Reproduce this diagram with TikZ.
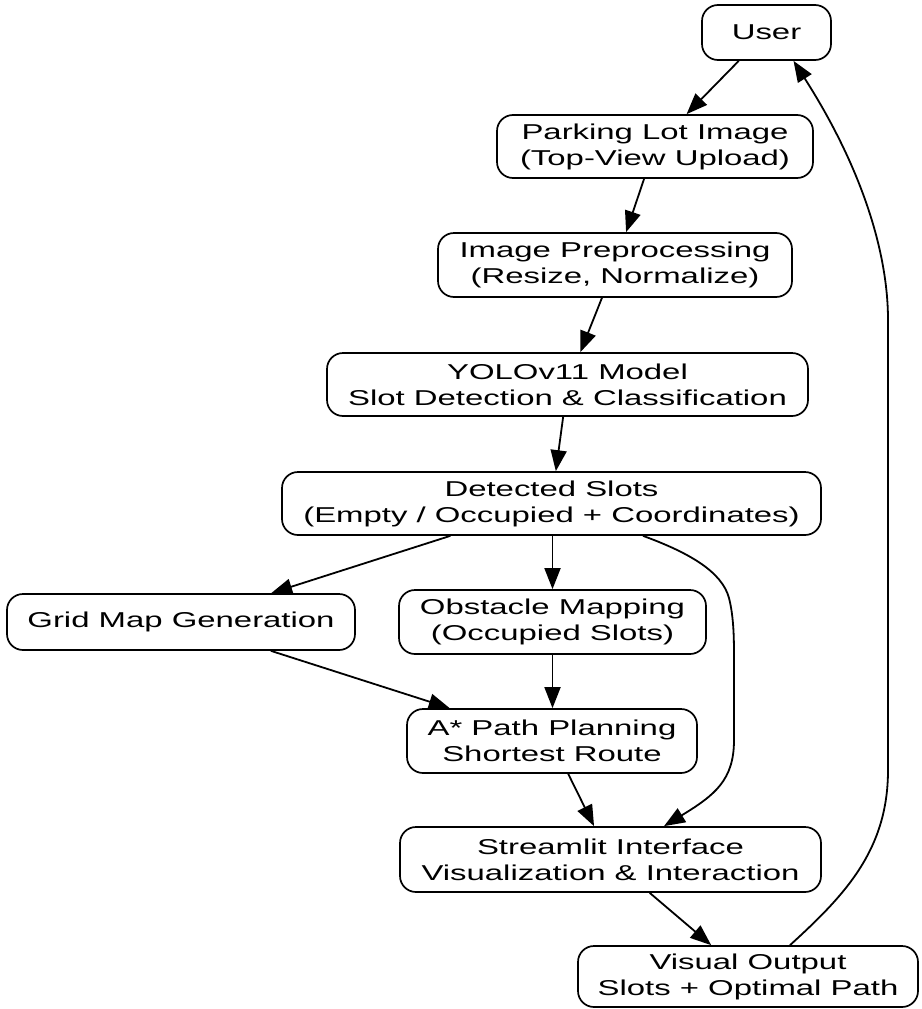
\documentclass[tikz,border=0pt]{standalone}
\usepackage{fontspec}
\setmainfont{Liberation Sans}[FakeStretch=1.53]
\usetikzlibrary{arrows.meta}
\begin{document}
\begin{tikzpicture}[x=1pt,y=-1pt,
  box/.style={draw, line width=1.7pt, rounded corners=16pt, inner sep=0pt, align=center,
    font=\fontsize{21.5}{26}\selectfont},
  edge/.style={line width=1.8pt, -{Triangle[length=21pt,width=16pt]}}]
\fill[white] (0,0) rectangle (921,1009);
\useasboundingbox (0,0) rectangle (921,1009);
\node[box, minimum width=129pt, minimum height=55pt] (user) at (766.5,32.5) {User};
\node[box, minimum width=316pt, minimum height=63pt] (park) at (655,146.5) {Parking Lot Image\\(Top-View Upload)};
\node[box, minimum width=354pt, minimum height=64pt] (pre) at (615,265) {Image Preprocessing\\(Resize, Normalize)};
\node[box, minimum width=481pt, minimum height=63pt] (yolo) at (567.5,384.5) {YOLOv11 Model\\Slot Detection \& Classification};
\node[box, minimum width=539pt, minimum height=63pt] (det) at (551.5,503.5) {Detected Slots\\(Empty / Occupied + Coordinates)};
\node[box, minimum width=348pt, minimum height=56pt] (grid) at (181,622) {Grid Map Generation};
\node[box, minimum width=307pt, minimum height=64pt] (obs) at (552.5,622) {Obstacle Mapping\\(Occupied Slots)};
\node[box, minimum width=290pt, minimum height=64pt] (astar) at (552,741) {A* Path Planning\\Shortest Route};
\node[box, minimum width=421pt, minimum height=65pt] (stream) at (610.5,859.5) {Streamlit Interface\\Visualization \& Interaction};
\node[box, minimum width=340pt, minimum height=61pt] (vis) at (748,976.5) {Visual Output\\Slots + Optimal Path};

\draw[edge] (user) -- (park);
\draw[edge] (park) -- (pre);
\draw[edge] (pre) -- (yolo);
\draw[edge] (yolo) -- (det);
\draw[edge] (det) -- (grid);
\draw[edge] (det.south -| obs.north) -- (obs.north);
\draw[edge] (obs.south) -- (astar.north -| obs.south);
\draw[edge] (grid) -- (astar);
\draw[edge] (astar) -- (stream);
\draw[edge] (stream) -- (vis);
\draw[edge] ([xshift=91.5pt]det.south) .. controls (690,553) and (722,572) .. (729,598)
  .. controls (734,618) and (734,640) .. (734,660) -- (734,740)
  .. controls (734,780) and (715,795) .. ([xshift=53.5pt]stream.north);
\draw[edge] ([xshift=42pt]vis.north) .. controls (845,895) and (888,850) .. (888,770)
  -- (888,320) .. controls (888,250) and (860,165) .. ([xshift=27pt]user.south);
\end{tikzpicture}
\end{document}
